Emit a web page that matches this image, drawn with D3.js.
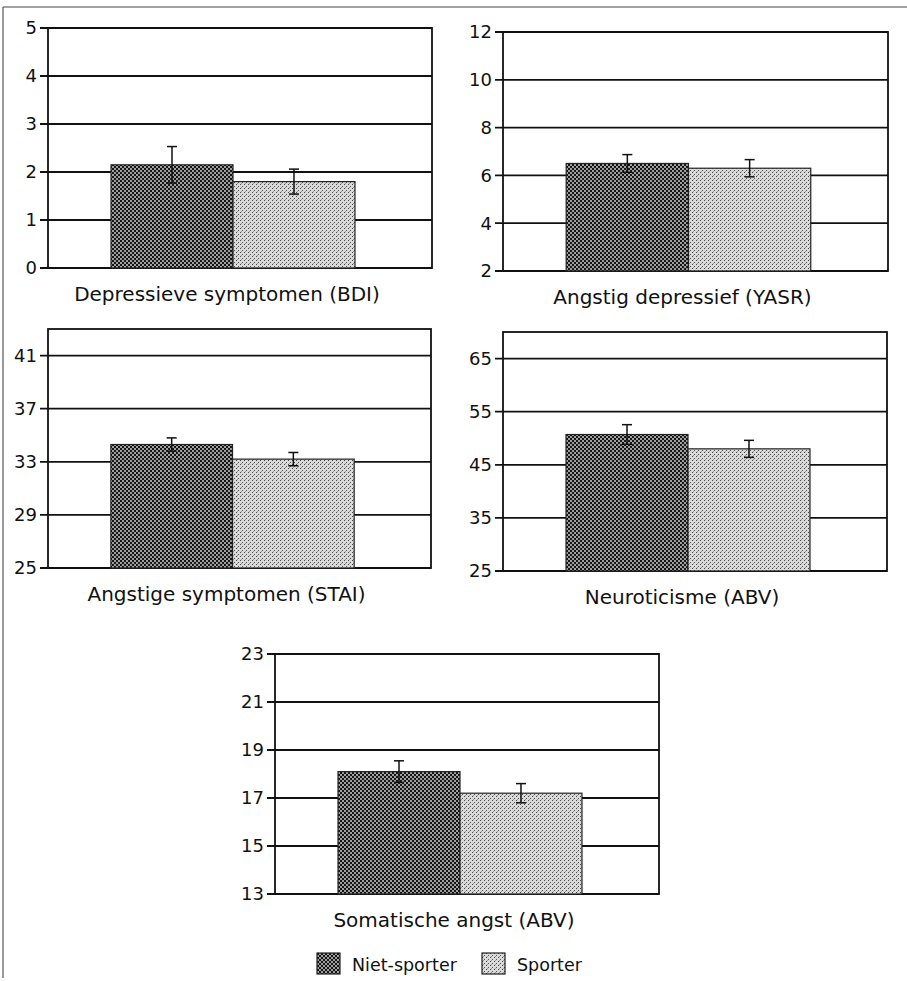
<!DOCTYPE html>
<html>
<head>
<meta charset="utf-8">
<script src="https://cdn.jsdelivr.net/npm/d3@7"></script>
<style>
  body { margin: 0; background: #fff; }
  svg text { font-family: "DejaVu Sans", sans-serif; fill: #111; }
</style>
</head>
<body>
<div id="chart"></div>
<script>
// data
const titles = ["Depressieve symptomen (BDI)", "Angstig depressief (YASR)", "Angstige symptomen (STAI)", "Neuroticisme (ABV)", "Somatische angst (ABV)"];
const groups = ["Niet-sporter", "Sporter"];
const nietSporter = [2.15, 6.5, 34.3, 50.7, 18.1];
const sporter = [1.8, 6.3, 33.2, 48.0, 17.2];
const nietErr = [0.38, 0.37, 0.5, 1.85, 0.45];
const sporterErr = [0.26, 0.36, 0.5, 1.6, 0.4];
const yMin = [0, 2, 25, 25, 13];
const yMax = [5, 12, 43, 70, 23];
const yTicks = [
  [0, 1, 2, 3, 4, 5],
  [2, 4, 6, 8, 10, 12],
  [25, 29, 33, 37, 41],
  [25, 35, 45, 55, 65],
  [13, 15, 17, 19, 21, 23]
];

// panel frames (left, right, top, bottom)
const frames = [
  [48, 432, 28, 268],
  [503, 888, 32, 271],
  [48, 431, 329, 568],
  [503, 887, 332, 571],
  [275, 659, 654, 894]
];

const width = 907, height = 981;
const svg = d3.select("#chart").append("svg")
  .attr("width", width)
  .attr("height", height);

// fill patterns
const defs = svg.append("defs");
let p1 = defs.append("pattern").attr("id", "niet")
  .attr("width", 4).attr("height", 4).attr("patternUnits", "userSpaceOnUse");
p1.append("rect").attr("width", 4).attr("height", 4).attr("fill", "#a0a0a0");
p1.append("rect").attr("width", 2).attr("height", 2).attr("fill", "#151515");
p1.append("rect").attr("x", 2).attr("y", 2).attr("width", 2).attr("height", 2).attr("fill", "#151515");

let p2 = defs.append("pattern").attr("id", "sporter")
  .attr("width", 4).attr("height", 4).attr("patternUnits", "userSpaceOnUse");
p2.append("rect").attr("width", 4).attr("height", 4).attr("fill", "#dadada");
p2.append("rect").attr("width", 1).attr("height", 1).attr("fill", "#444");
p2.append("rect").attr("x", 2).attr("y", 2).attr("width", 1).attr("height", 1).attr("fill", "#555");
p2.append("rect").attr("x", 1).attr("y", 3).attr("width", 1).attr("height", 1).attr("fill", "#999");

const fills = {"Niet-sporter": "url(#niet)", "Sporter": "url(#sporter)"};

// outer page frame
svg.append("line").attr("x1", 3).attr("x2", width).attr("y1", 7).attr("y2", 7)
  .attr("stroke", "#444").attr("stroke-width", 1.2);
svg.append("line").attr("x1", 3).attr("x2", 3).attr("y1", 7).attr("y2", 978)
  .attr("stroke", "#555").attr("stroke-width", 1.2);

titles.forEach(function(title, i) {
  let [l, r, t, b] = frames[i];
  let g = svg.append("g");

  let y = d3.scaleLinear().domain([yMin[i], yMax[i]]).range([b, t]);
  let x = d3.scaleBand().domain(groups).range([l, r])
    .paddingInner(0).paddingOuter(0.574).align(0.45);

  // gridlines + ticks
  g.selectAll(".grid").data(yTicks[i]).enter()
    .append("line")
      .attr("x1", l - 8).attr("x2", r)
      .attr("y1", d => y(d)).attr("y2", d => y(d))
      .attr("stroke", "#111").attr("stroke-width", 1.8);

  g.selectAll(".lbl").data(yTicks[i]).enter()
    .append("text")
      .attr("x", l - 11)
      .attr("y", d => y(d))
      .attr("dy", "0.36em")
      .attr("text-anchor", "end")
      .style("font-size", "18px")
      .text(d => d);

  // plot frame
  g.append("rect")
    .attr("x", l).attr("y", t).attr("width", r - l).attr("height", b - t)
    .attr("fill", "none").attr("stroke", "#111").attr("stroke-width", 1.8);

  let rows = [
    {group: "Niet-sporter", value: nietSporter[i], err: nietErr[i]},
    {group: "Sporter", value: sporter[i], err: sporterErr[i]}
  ];

  g.selectAll(".bar").data(rows).enter()
    .append("rect")
      .attr("x", d => x(d.group))
      .attr("y", d => y(d.value))
      .attr("width", x.bandwidth())
      .attr("height", d => b - y(d.value))
      .attr("fill", d => fills[d.group])
      .attr("stroke", "#222")
      .attr("stroke-width", 1.2);

  // error bars
  let eb = g.selectAll(".err").data(rows).enter().append("g");
  eb.append("line")
    .attr("x1", d => x(d.group) + x.bandwidth() / 2)
    .attr("x2", d => x(d.group) + x.bandwidth() / 2)
    .attr("y1", d => y(d.value + d.err))
    .attr("y2", d => y(d.value - d.err))
    .attr("stroke", "#111").attr("stroke-width", 1.5);
  eb.append("line")
    .attr("x1", d => x(d.group) + x.bandwidth() / 2 - 5)
    .attr("x2", d => x(d.group) + x.bandwidth() / 2 + 5)
    .attr("y1", d => y(d.value + d.err))
    .attr("y2", d => y(d.value + d.err))
    .attr("stroke", "#111").attr("stroke-width", 1.5);
  eb.append("line")
    .attr("x1", d => x(d.group) + x.bandwidth() / 2 - 5)
    .attr("x2", d => x(d.group) + x.bandwidth() / 2 + 5)
    .attr("y1", d => y(d.value - d.err))
    .attr("y2", d => y(d.value - d.err))
    .attr("stroke", "#111").attr("stroke-width", 1.5);

  // category label
  g.append("text")
    .attr("x", (x("Niet-sporter") + x("Sporter") + x.bandwidth()) / 2 - 6)
    .attr("y", b + 33)
    .attr("text-anchor", "middle")
    .style("font-size", "20px")
    .text(title);
});

// legend
let legend = svg.append("g").attr("transform", "translate(317,953)");
let items = legend.selectAll(".item").data(groups).enter()
  .append("g")
    .attr("transform", (d, i) => "translate(" + (i * 165) + ",0)");
items.append("rect")
  .attr("width", 23).attr("height", 21)
  .attr("fill", d => fills[d])
  .attr("stroke", "#222").attr("stroke-width", 1.2);
items.append("text")
  .attr("x", 35).attr("y", 18)
  .style("font-size", "17.5px")
  .text(d => d);
</script>
</body>
</html>
